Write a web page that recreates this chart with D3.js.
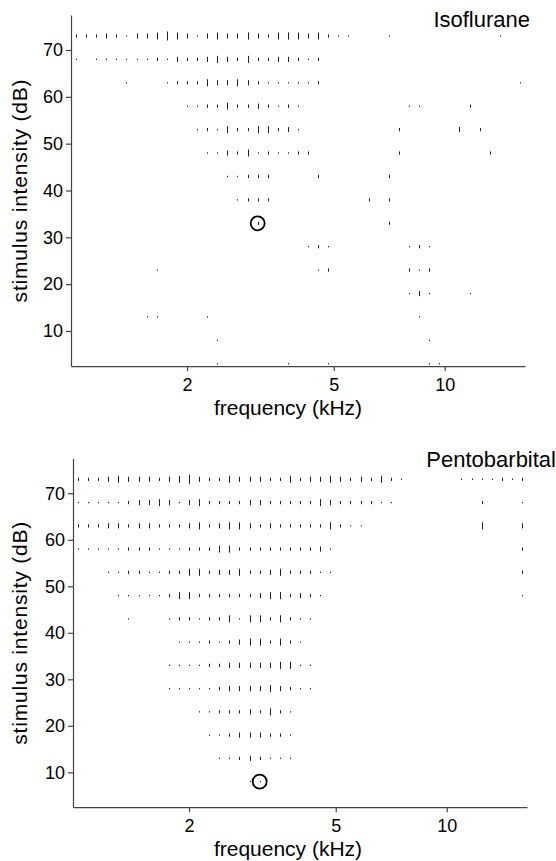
<!DOCTYPE html>
<html>
<head>
<meta charset="utf-8">
<script src="https://cdn.jsdelivr.net/npm/d3@7"></script>
<style>
  html, body { margin: 0; padding: 0; background: #fff; }
  svg { display: block; font-family: "Liberation Sans", Arial, Helvetica, sans-serif; }
</style>
</head>
<body>
<div id="chart"></div>
<script>
const width = 556;
const height = 861;

// tone frequencies (kHz), 1/11 octave steps from 1 to 16 kHz
const freqs = [
  1.000, 1.065, 1.134, 1.208, 1.287, 1.370, 1.459, 1.554, 1.655, 1.763, 1.878,
  2.000, 2.130, 2.269, 2.416, 2.573, 2.741, 2.919, 3.109, 3.311, 3.526, 3.755,
  4.000, 4.260, 4.537, 4.833, 5.146, 5.481, 5.838, 6.217, 6.621, 7.052, 7.510,
  8.000, 8.520, 9.075, 9.665, 10.293, 10.962, 11.675, 12.434, 13.243, 14.104, 15.021, 16.000
];
// stimulus levels (dB), top row first
const levels = [73, 68, 63, 58, 53, 48, 43, 38, 33, 28, 23, 18, 13, 8, 3];
const freqTicks = [2, 5, 10];
const dbTicks = [10, 20, 30, 40, 50, 60, 70];

// response size per cell (0 = none .. 5 = largest), one string per level,
// one digit per frequency (grouped by 5 for reading)
const isoCounts = [
  "22232 13345 43134 33432 44434 21100 01000 00000 00100", // 73
  "10111 11121 32234 32422 33212 00000 00000 00000 00000", // 68
  "00000 10001 22243 34321 11112 00000 00000 00000 00001", // 63
  "00000 00000 01122 42232 12100 00000 00011 00002 00000", // 58
  "00000 00000 00121 42244 23100 00000 00200 00030 20000", // 53
  "00000 00000 00011 32412 11220 00000 00200 00000 02000", // 48
  "00000 00000 00000 11222 00002 00000 02000 00000 00000", // 43
  "00000 00000 00000 01222 00000 00002 02000 00000 00000", // 38
  "00000 00000 00000 00020 00000 00000 02000 00000 00000", // 33
  "00000 00000 00000 00000 00012 10000 00012 10000 00000", // 28
  "00000 00010 00000 00000 00001 20000 00021 20000 00000", // 23
  "00000 00000 00000 00000 00000 00000 00013 10001 00000", // 18
  "00000 00110 00010 00000 00000 00000 00001 00000 00000", // 13
  "00000 00000 00001 00000 00000 00000 00000 10000 00000", // 8
  "00000 00000 00001 00000 01000 10000 00000 11000 00000"  // 3
];
const pentoCounts = [
  "22234 33323 45322 43332 24233 43232 42100 00011 11212", // 73
  "11111 23343 13422 22332 22224 32222 11000 00000 20001", // 68
  "22233 23322 23423 44323 22222 42110 00000 00000 40003", // 63
  "11111 22211 12224 42222 22223 10000 00000 00000 00002", // 58
  "00011 22112 24423 34223 42221 10000 00000 00000 00002", // 53
  "00001 11112 44222 22234 42321 00000 00000 00000 00001", // 48
  "00000 10001 22122 41442 42110 00000 00000 00000 00000", // 43
  "00000 00000 11121 23442 42100 00000 00000 00000 00000", // 38
  "00000 00001 11122 33333 44110 00000 00000 00000 00000", // 33
  "00000 00001 11112 33334 32110 00000 00000 00000 00000", // 28
  "00000 00000 00112 22324 21000 00000 00000 00000 00000", // 23
  "00000 00000 00011 23332 21000 00000 00000 00000 00000", // 18
  "00000 00000 00001 12321 11000 00000 00000 00000 00000", // 13
  "00000 00000 00000 00110 00000 00000 00000 00000 00000", // 8
  "00000 00000 00000 00000 00000 00000 00000 00000 00000"  // 3
];

// characteristic frequency / threshold markers
const isoCF = { freq: 3.109, level: 33 };
const pentoCF = { freq: 3.109, level: 8 };

const svg = d3.select("#chart").append("svg")
  .attr("width", width)
  .attr("height", height)
  .attr("viewBox", `0 0 ${width} ${height}`);

const axisColor = "#444";
const markColor = "#222";

function drawPanel(cfg) {
  const x = d3.scaleLog().domain([0.969, 16.51]).range([cfg.left, cfg.right]);
  const y = d3.scaleLinear().domain([2.5, 77.5]).range([cfg.bottom, cfg.top]);
  const len = d3.scaleLinear().domain([1, 5]).range([1.3, 9]);

  const g = svg.append("g");

  const cells = [];
  cfg.counts.forEach((row, i) => {
    row.replace(/ /g, "").split("").forEach((c, j) => {
      if (+c > 0) cells.push({ f: freqs[j], db: levels[i], n: +c });
    });
  });

  g.append("g").selectAll("line").data(cells).join("line")
    .attr("x1", d => Math.round(x(d.f)) + 0.5)
    .attr("x2", d => Math.round(x(d.f)) + 0.5)
    .attr("y1", d => y(d.db) - len(d.n) / 2)
    .attr("y2", d => y(d.db) + len(d.n) / 2)
    .attr("stroke", markColor)
    .attr("stroke-width", 1);

  g.append("circle")
    .attr("cx", x(cfg.cf.freq))
    .attr("cy", y(cfg.cf.level))
    .attr("r", 7)
    .attr("fill", "none")
    .attr("stroke", "#000")
    .attr("stroke-width", 1.8);

  const xAxis = g.append("g")
    .attr("transform", `translate(0,${cfg.bottom})`)
    .call(d3.axisBottom(x).tickValues(freqTicks).tickFormat(d3.format("d")).tickSize(5).tickSizeOuter(0).tickPadding(7));

  const yAxis = g.append("g")
    .attr("transform", `translate(${cfg.left},0)`)
    .call(d3.axisLeft(y).tickValues(dbTicks).tickSize(5).tickSizeOuter(0).tickPadding(3));

  [xAxis, yAxis].forEach(a => {
    a.select(".domain").attr("stroke", axisColor).attr("stroke-width", 1.2);
    a.selectAll(".tick line").attr("stroke", axisColor).attr("stroke-width", 1.2);
    a.selectAll(".tick text").attr("fill", "#000").style("font-size", "18px");
  });

  g.append("text")
    .attr("x", 288)
    .attr("y", cfg.bottom + 49)
    .attr("text-anchor", "middle")
    .style("font-size", "21px")
    .text("frequency (kHz)");

  g.append("text")
    .attr("transform", `translate(27,${(cfg.top + cfg.bottom) / 2}) rotate(-90)`)
    .attr("text-anchor", "middle")
    .style("font-size", "21px")
    .style("letter-spacing", "0.8px")
    .text("stimulus intensity (dB)");

  g.append("text")
    .attr("x", cfg.titleX)
    .attr("y", cfg.titleY)
    .attr("text-anchor", "end")
    .style("font-size", "22px")
    .text(cfg.title);
}

drawPanel({
  counts: isoCounts, cf: isoCF, title: "Isoflurane",
  left: 71, right: 525, top: 14.9, bottom: 366.1,
  titleX: 530, titleY: 27
});

drawPanel({
  counts: pentoCounts, cf: pentoCF, title: "Pentobarbital",
  left: 73, right: 527, top: 458.4, bottom: 807.2,
  titleX: 556, titleY: 467
});
</script>
</body>
</html>
